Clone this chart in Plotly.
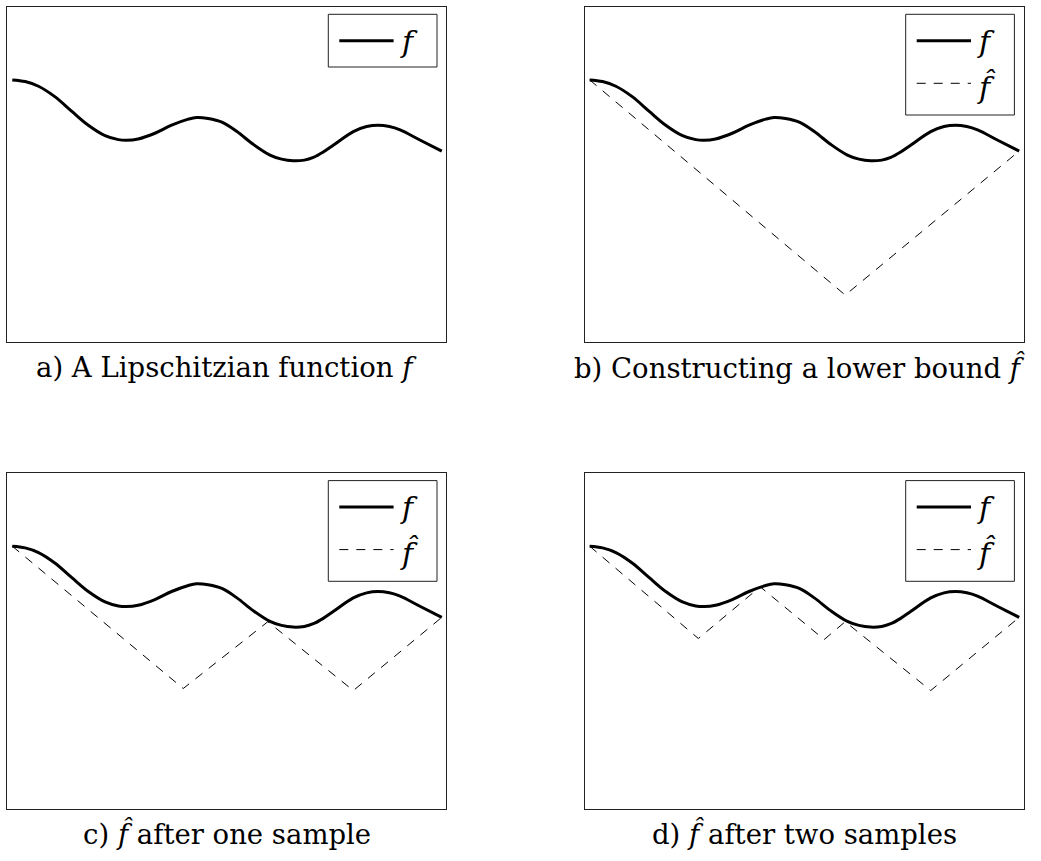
import plotly.graph_objects as go

# Lipschitz function f, sampled along [0, 1]
f_x = [0.000, 0.030, 0.061, 0.099, 0.138, 0.177, 0.216, 0.247, 0.266, 0.293,
       0.332, 0.371, 0.410, 0.429, 0.456, 0.488, 0.523, 0.561, 0.600, 0.627,
       0.654, 0.680, 0.701, 0.724, 0.748, 0.794, 0.825, 0.852, 0.878, 0.903,
       0.949, 1.000]
f_y = [0.782, 0.777, 0.763, 0.732, 0.689, 0.647, 0.616, 0.604, 0.602, 0.606,
       0.623, 0.647, 0.665, 0.670, 0.667, 0.656, 0.628, 0.590, 0.558, 0.546,
       0.541, 0.543, 0.551, 0.567, 0.588, 0.628, 0.643, 0.647, 0.643, 0.633,
       0.603, 0.570]

# Piecewise-linear lower bounds f-hat (vertices)
fhat_b_x = [0.000, 0.595, 1.000]
fhat_b_y = [0.782, 0.141, 0.570]

fhat_c_x = [0.000, 0.398, 0.595, 0.794, 1.000]
fhat_c_y = [0.782, 0.358, 0.557, 0.352, 0.570]

fhat_d_x = [0.000, 0.253, 0.397, 0.546, 0.595, 0.794, 1.000]
fhat_d_y = [0.782, 0.507, 0.661, 0.504, 0.557, 0.352, 0.570]

captions = [
    "a) A Lipschitzian function <i>f</i>",
    "b) Constructing a lower bound <i>f\u0302</i>",
    "c) <i>f\u0302</i> after one sample",
    "d) <i>f\u0302</i> after two samples",
]

W, H = 1041, 861
FONT = "DejaVu Serif"

# panel frames in pixels: left, top
panels = [(7.3, 6.7), (584.7, 6.7), (7.3, 473.0), (584.7, 473.0)]
PW, PH = 439.0, 335.7
caption_dx = [0.0, -4.0, 0.0, 0.0]


def px(x):
    return x / W


def py(y):
    return 1 - y / H


fig = go.Figure()

fhat_sets = [None, (fhat_b_x, fhat_b_y), (fhat_c_x, fhat_c_y), (fhat_d_x, fhat_d_y)]

shapes = []
annotations = []

for i, (x0, y0) in enumerate(panels):
    n = "" if i == 0 else str(i + 1)
    xa, ya = "x" + n, "y" + n
    fig.add_trace(go.Scatter(
        x=f_x, y=f_y, mode="lines", xaxis=xa, yaxis=ya, showlegend=False,
        line=dict(color="black", width=3, shape="spline", smoothing=1.0),
        name="f"))
    if fhat_sets[i] is not None:
        hx, hy = fhat_sets[i]
        fig.add_trace(go.Scatter(
            x=hx, y=hy, mode="lines", xaxis=xa, yaxis=ya, showlegend=False,
            line=dict(color="black", width=1, dash="9px,8px"),
            name="f\u0302"))

    axis_common = dict(showline=True, mirror=True, linecolor="#222", linewidth=1,
                       showticklabels=False, ticks="", showgrid=False,
                       zeroline=False, fixedrange=True)
    fig.update_layout(**{
        "xaxis" + n: dict(domain=[px(x0), px(x0 + PW)], range=[-0.0116, 1.0105],
                          anchor=ya, **axis_common),
        "yaxis" + n: dict(domain=[py(y0 + PH), py(y0)], range=[0, 1],
                          anchor=xa, **axis_common),
    })

    # legend box
    lx0, lx1 = x0 + 321.0, x0 + 429.7
    ly0 = y0 + 7.6
    ly1 = y0 + (60.3 if i == 0 else 108.3)
    shapes.append(dict(type="rect", xref="paper", yref="paper",
                       x0=px(lx0), x1=px(lx1), y0=py(ly1), y1=py(ly0),
                       line=dict(color="#222", width=1), fillcolor="white",
                       layer="above"))
    shapes.append(dict(type="line", xref="paper", yref="paper",
                       x0=px(x0 + 332.0), x1=px(x0 + 386.3),
                       y0=py(y0 + 34.0), y1=py(y0 + 34.0),
                       line=dict(color="black", width=3), layer="above"))
    annotations.append(dict(xref="paper", yref="paper", x=px(x0 + 401.5),
                            y=py(y0 + 34.5), text="<i>f</i>", showarrow=False,
                            xanchor="center", yanchor="middle",
                            font=dict(family=FONT, size=30, color="black")))
    if i > 0:
        shapes.append(dict(type="line", xref="paper", yref="paper",
                           x0=px(x0 + 332.0), x1=px(x0 + 386.3),
                           y0=py(y0 + 76.6), y1=py(y0 + 76.6),
                           line=dict(color="black", width=1, dash="9px,8px"),
                           layer="above"))
        annotations.append(dict(xref="paper", yref="paper", x=px(x0 + 401.5),
                                y=py(y0 + 80.0), text="<i>f\u0302</i>",
                                showarrow=False, xanchor="center",
                                yanchor="middle",
                                font=dict(family=FONT, size=30, color="black")))

    # caption below the panel
    annotations.append(dict(xref="paper", yref="paper",
                            x=px(x0 + PW / 2 + caption_dx[i]),
                            y=py(y0 + PH + 25.0), text=captions[i],
                            showarrow=False, xanchor="center", yanchor="middle",
                            font=dict(family=FONT, size=27.5, color="black")))

fig.update_layout(
    width=W, height=H, margin=dict(l=0, r=0, t=0, b=0),
    paper_bgcolor="white", plot_bgcolor="white",
    shapes=shapes, annotations=annotations, showlegend=False,
)

fig.write_html("out.html")
